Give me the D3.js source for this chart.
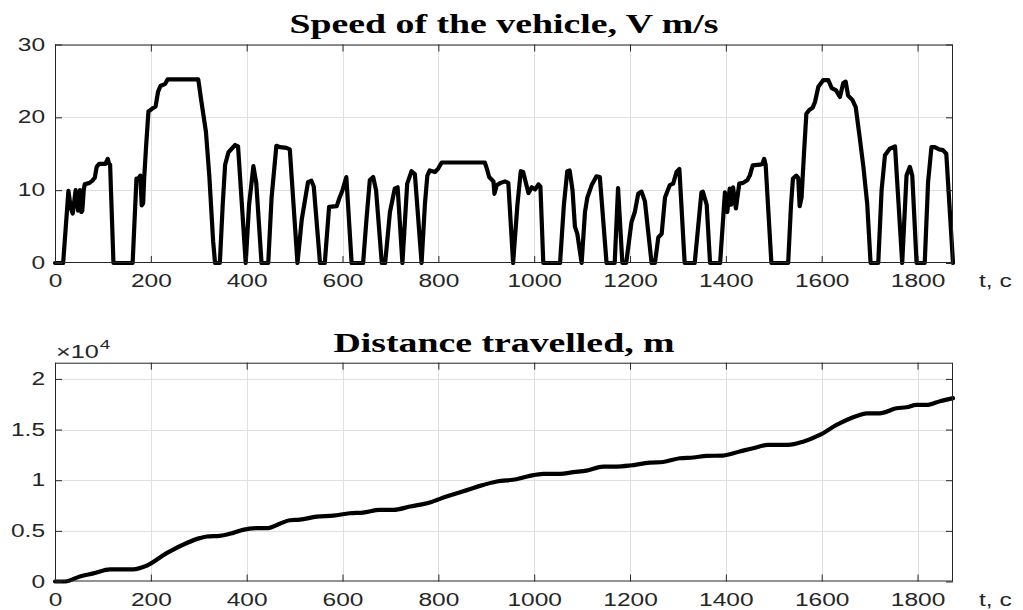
<!DOCTYPE html>
<html>
<head>
<meta charset="utf-8">
<script src="https://cdn.jsdelivr.net/npm/d3@7"></script>
<style>
  html, body { margin: 0; padding: 0; background: #fff; }
  svg { display: block; }
</style>
</head>
<body>
<svg id="chart" width="1023" height="610"></svg>
<script>
// Drive cycle: vehicle speed (m/s) against time (s)
const speedT = [0,17,28,33,37,43,48,52,55,57,60,62,72,78,83,87,92,105,110,113,115,122,
  162,170,173,178,181,184,186,190,195,203,210,215,220,230,235,299,305,315,322,330,334,
  344,350,355,362,376,382,390,398,405,414,420,431,445,452,462,470,483,490,506,515,528,535,540,553,
  563,572,588,594,600,608,619,643,650,657,664,670,682,689,699,709,715,725,735,744,751,765,
  772,777,782,793,800,807,897,901,906,915,917,922,930,939,946,956,965,972,977,988,995,1002,1009,1013,1019,
  1054,1062,1069,1074,1080,1085,1090,1099,1106,1111,1120,1130,1137,1151,1168,1175,1184,1192,1203,1210,1217,1224,1231,1245,
  1252,1259,1266,1273,1283,1290,1297,1303,1314,1335,1349,1352,1360,1367,1388,1398,1403,1408,1411,1415,1421,1428,1436,1445,1450,1456,1471,1476,1480,1483,1495,
  1530,1536,1540,1547,1551,1554,1558,1563,1568,1574,1581,1586,1593,1603,1614,1621,1630,1638,1645,1650,1655,1664,1671,1680,1687,1695,1702,
  1718,1725,1732,1742,1753,1768,1777,1784,1789,1798,1815,1822,1829,1836,1845,1853,1860,1874];
const speedV = [0,0,9.9,7.5,6.8,10,7.2,10,7,7.2,10,10.8,11,11.3,11.7,13.2,13.6,13.6,14.3,13.6,13.5,0,
  0,11.6,11.5,12,7.9,8.2,11.5,15.9,20.8,21.2,21.5,23.5,24.3,24.6,25.2,25.2,22.4,18,12,3,0,
  0,8,13.5,15.2,16.2,16,8,0,8,13.3,11,0,0,9,16.1,15.9,15.8,15.6,0,6,11.1,11.3,10.5,0,
  0,7.7,7.8,9,10,11.8,0,0,6,11.4,11.8,10,0,0,7,10.2,10.4,0,10.9,12.6,12.2,0,
  8.1,12,12.7,12.5,13,13.8,13.8,13,11.8,11.2,9.5,10.7,11,11.2,11,0,8,12.6,12.5,9.6,10.4,10.1,10.8,10.5,0,
  0,8,12.6,12.7,10,5,4,0,7,9,10.7,11.9,11.8,0,0,10.3,0,0,5.6,7,9.5,9.8,8.5,0,
  0,3.5,4,9,10.7,10.9,12.5,12.9,0,0,9.7,9.8,8,0,0,9.7,7,10.2,8,10.4,7.5,10.9,11,11.4,12,13.4,13.5,13.6,14.3,13.5,0,
  0,8,11.6,12,11.7,7.8,9,15,20.5,21,21.3,22.1,24.2,25.1,25.1,24,23.7,22.8,24.7,24.9,23,22.4,21.4,16.9,13.2,8.1,0,
  0,10,14.8,15.7,16,0,12,13.2,12,0,0,11.1,15.9,15.9,15.6,15.5,15,0];

// Cumulative distance travelled (m) against time (s)
const distT = [0,21,52,80,115,163,191,233,275,302,317,344,372,392,421,442,469,490,511,546,581,615,
  643,678,706,741,782,817,852,887,922,963,991,1019,1054,1082,1109,1144,1172,1200,1241,1269,
  1304,1332,1360,1394,1429,1457,1488,1530,1561,1596,1631,1673,1694,1721,1756,1777,1798,1819,1847,1874];
const distV = [0,0,500,800,1200,1200,1550,2800,3800,4280,4440,4500,4800,5100,5260,5260,5700,6050,6100,6400,6500,6740,
  6800,7070,7070,7400,7800,8400,8900,9440,9870,10100,10430,10630,10630,10800,10950,11350,11350,11450,11740,11800,
  12170,12240,12400,12430,12830,13160,13490,13490,13800,14470,15460,16350,16600,16600,17100,17200,17430,17430,17800,18100];

// Axis ticks and labels
const timeTicks = [0,200,400,600,800,1000,1200,1400,1600,1800];
const speedTicks = [0,10,20,30];
const distTicks = [0,5000,10000,15000,20000];
const distTickLabels = ["0","0.5","1","1.5","2"];
const timeDomain = [0,1874];
const speedDomain = [0,30];
const distDomain = [0,21600];

const titles = ["Speed of the vehicle, V m/s", "Distance travelled, m"];
const xAxisLabel = "t, c";
const distExponent = "4";

const svg = d3.select("#chart");
const SANS = "'Liberation Sans', Arial, Helvetica, sans-serif";
const SERIF = "'Liberation Serif', 'Times New Roman', serif";
const WIDEN = 1.4;            // labels are set wide
const AXIS_COLOR = "#262626";
const GRID_COLOR = "#e0e0e0";
const TICK_FS = 17.5;
const TICK_LEN = 7;

// stretch a text horizontally; returns the new width
function widen(sel, k) {
  let last = 0;
  sel.each(function () {
    const w = this.getComputedTextLength();
    if (w > 0) {
      last = w * k;
      this.setAttribute("textLength", last);
      this.setAttribute("lengthAdjust", "spacingAndGlyphs");
    }
  });
  return last;
}

const left = 55, right = 953;
const x = d3.scaleLinear().domain(timeDomain).range([left, right]);

function panel(opts) {
  const { top, bottom, yScaleDomain, yTicks, yFormat, xs, ys, curve, title, titleY } = opts;
  const y = d3.scaleLinear().domain(yScaleDomain).range([bottom, top]);
  const g = svg.append("g");

  // grid
  const grid = g.append("g").attr("stroke", GRID_COLOR).attr("stroke-width", 1);
  grid.selectAll("line.gx").data(timeTicks.filter(t => t > timeDomain[0])).join("line")
    .attr("x1", d => Math.round(x(d)) + 0.5).attr("x2", d => Math.round(x(d)) + 0.5)
    .attr("y1", top).attr("y2", bottom);
  grid.selectAll("line.gy").data(yTicks.filter(v => v > yScaleDomain[0])).join("line")
    .attr("x1", left).attr("x2", right)
    .attr("y1", d => Math.round(y(d)) + 0.5).attr("y2", d => Math.round(y(d)) + 0.5);

  // data line
  const line = d3.line().x(d => x(d[0])).y(d => y(d[1])).curve(curve);
  g.append("path")
    .datum(xs.map((t, i) => [t, ys[i]]))
    .attr("d", line)
    .attr("fill", "none")
    .attr("stroke", "#000")
    .attr("stroke-width", 4.2)
    .attr("stroke-linejoin", "round")
    .attr("stroke-linecap", "round");

  // axes with inward ticks on all four sides
  const xb = g.append("g").attr("transform", `translate(0,${bottom})`)
    .call(d3.axisBottom(x).tickValues(timeTicks).tickSize(-TICK_LEN).tickPadding(12).tickFormat(d3.format("d")));
  const xt = g.append("g").attr("transform", `translate(0,${top})`)
    .call(d3.axisTop(x).tickValues(timeTicks).tickSize(-TICK_LEN).tickFormat(""));
  const yl = g.append("g").attr("transform", `translate(${left},0)`)
    .call(d3.axisLeft(y).tickValues(yTicks).tickSize(-TICK_LEN).tickPadding(10).tickFormat(yFormat));
  const yr = g.append("g").attr("transform", `translate(${right},0)`)
    .call(d3.axisRight(y).tickValues(yTicks).tickSize(-TICK_LEN).tickFormat(""));
  [xb, xt, yl, yr].forEach(a => {
    a.select(".domain").remove();
    a.selectAll("line").attr("stroke", AXIS_COLOR);
    a.selectAll("text").attr("fill", AXIS_COLOR).style("font-family", SANS).style("font-size", TICK_FS + "px");
  });
  widen(xb.selectAll("text"), WIDEN);
  widen(yl.selectAll("text"), WIDEN);

  // box
  g.append("rect")
    .attr("x", left + 0.5).attr("y", top + 0.5)
    .attr("width", right - left - 1).attr("height", bottom - top - 1)
    .attr("fill", "none").attr("stroke", AXIS_COLOR).attr("stroke-width", 1);

  // title
  const tt = g.append("text")
    .attr("x", (left + right) / 2).attr("y", titleY)
    .attr("text-anchor", "middle")
    .style("font-family", SERIF).style("font-weight", "bold").style("font-size", "27px")
    .attr("fill", "#000")
    .text(title);
  widen(tt, WIDEN);

  // x axis label
  const xl = g.append("text")
    .attr("x", 979).attr("y", bottom + 24)
    .style("font-family", SANS).style("font-size", TICK_FS + "px")
    .attr("fill", AXIS_COLOR)
    .text(xAxisLabel);
  widen(xl, WIDEN);

  return { g, y, top };
}

panel({
  top: 44.5, bottom: 263, yScaleDomain: speedDomain, yTicks: speedTicks,
  yFormat: d3.format("d"), xs: speedT, ys: speedV, curve: d3.curveLinear,
  title: titles[0], titleY: 33
});

const p2 = panel({
  top: 362.7, bottom: 581.5, yScaleDomain: distDomain, yTicks: distTicks,
  yFormat: (d, i) => distTickLabels[i], xs: distT, ys: distV, curve: d3.curveMonotoneX,
  title: titles[1], titleY: 352
});

// exponent marker above the distance axis
const mult = p2.g.append("text")
  .attr("x", 56).attr("y", 358)
  .style("font-family", SANS).style("font-size", "18px")
  .attr("fill", AXIS_COLOR)
  .text("\u00d710");
const mw = widen(mult, WIDEN);
const sup = p2.g.append("text")
  .attr("x", 56 + mw + 1).attr("y", 349)
  .style("font-family", SANS).style("font-size", "13.5px")
  .attr("fill", AXIS_COLOR)
  .text(distExponent);
widen(sup, WIDEN);
</script>
</body>
</html>
